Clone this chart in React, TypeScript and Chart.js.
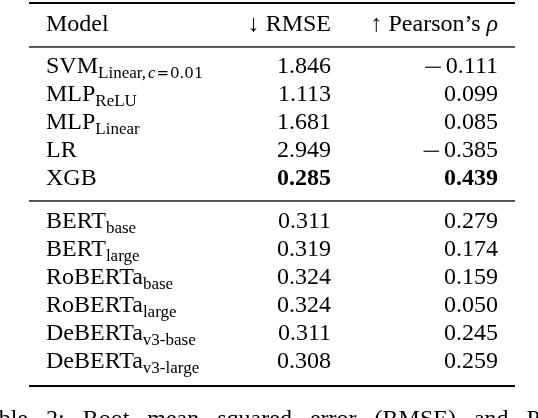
import { useEffect, useRef } from 'react';
import { Chart, ScatterController, PointElement, LinearScale } from 'chart.js';
import type { Plugin } from 'chart.js';

Chart.register(ScatterController, PointElement, LinearScale);

// ---- table content ----
const MODEL_NAMES = ['SVM', 'MLP', 'MLP', 'LR', 'XGB', 'BERT', 'BERT', 'RoBERTa', 'RoBERTa', 'DeBERTa', 'DeBERTa'];
const MODEL_SUBS  = ['Linear,c=0.01', 'ReLU', 'Linear', '', '', 'base', 'large', 'base', 'large', 'v3-base', 'v3-large'];
const RMSE        = [1.846, 1.113, 1.681, 2.949, 0.285, 0.311, 0.319, 0.324, 0.324, 0.311, 0.308];
const PEARSON     = [-0.111, 0.099, 0.085, -0.385, 0.439, 0.279, 0.174, 0.159, 0.050, 0.245, 0.259];
const GROUP_SIZES = [5, 6];
const CAPTION     = 'Table 2: Root mean squared error (RMSE) and Pearson’s correlation';

// ---- layout ----
const W = 538, H = 418;
const INK    = '#000';
const SERIF  = '"Liberation Serif", "Times New Roman", serif';
const MATH   = '"DejaVu Serif", serif';
const SIZE   = 24;
const SUB    = 17;
const SUB_DY = 5;
const PITCH  = 28;           // px per row
const FIRST_GAP = 1.5;       // rows between header and first body row
const GROUP_GAP = 1.54;      // rows between groups
const RULE_BELOW = 0.57;     // thin rule offset below a row (rows)
const COL_X = [17, 302, 469];  // model left edge, RMSE right edge, Pearson right edge
const ALIGN = ['left', 'right', 'right'] as const;

const f = (size: number, style = '', family = SERIF) => `${style} ${size}px ${family}`.trim();

// sx: horizontal stretch of a glyph (used for the wide math minus)
type Seg = { text: string; font: string; dy?: number; gap?: number; sx?: number };

// row slots (in rows; header is 0)
const SLOTS: number[] = [];
const MID_RULES: number[] = [];
{
  let s = FIRST_GAP;
  GROUP_SIZES.forEach((n, g) => {
    if (g > 0) { MID_RULES.push(s - 1 + RULE_BELOW); s += GROUP_GAP - 1; }
    for (let i = 0; i < n; i++) { SLOTS.push(s); s += 1; }
  });
}
const LAST = SLOTS[SLOTS.length - 1];
const RULES = [
  { at: -1.0,           w: 2.0 },
  { at: RULE_BELOW,     w: 1.3 },
  ...MID_RULES.map(at => ({ at, w: 1.3 })),
  { at: LAST + 0.64,    w: 2.0 },
];

const bestRmse    = Math.min(...RMSE);
const bestPearson = Math.max(...PEARSON);

function subSegs(sub: string): Seg[] {
  if (!sub) return [];
  const m = sub.match(/^(.*,)(\w)=(.*)$/);
  if (m) {
    return [
      { text: m[1], font: f(SUB), dy: SUB_DY },
      { text: m[2], font: f(SUB, 'italic'), dy: SUB_DY, gap: 2 },
      { text: '=', font: f(SUB - 2, '', MATH), dy: SUB_DY, gap: 1 },
      { text: m[3], font: f(SUB - 2, '', MATH), dy: SUB_DY, gap: 1 },
    ];
  }
  return [{ text: sub, font: f(SUB), dy: SUB_DY }];
}

function numSegs(v: number, bold: boolean): Seg[] {
  const body = Math.abs(v).toFixed(3);
  const font = f(SIZE, bold ? 'bold' : '');
  if (v < 0) return [{ text: '−', font: f(SIZE), sx: 1.4, dy: 1.5 }, { text: body, font, gap: 3 }];
  return [{ text: body, font }];
}

const CELLS: Seg[][][] = [
  [
    [{ text: 'Model', font: f(SIZE) }],
    ...MODEL_NAMES.map((n, i) => [{ text: n, font: f(SIZE) }, ...subSegs(MODEL_SUBS[i])]),
  ],
  [
    [{ text: '↓ RMSE', font: f(SIZE) }],
    ...RMSE.map(v => numSegs(v, v === bestRmse)),
  ],
  [
    [{ text: '↑ Pearson’s ', font: f(SIZE) }, { text: 'ρ', font: f(SIZE, 'italic') }],
    ...PEARSON.map(v => numSegs(v, v === bestPearson)),
  ],
];

function drawRich(ctx: CanvasRenderingContext2D, segs: Seg[], x: number, y: number, align: 'left' | 'right') {
  const widths = segs.map(s => {
    ctx.font = s.font;
    return ctx.measureText(s.text).width * (s.sx ?? 1) + (s.gap ?? 0);
  });
  let cx = align === 'right' ? x - widths.reduce((a, b) => a + b, 0) : x;
  segs.forEach((s, i) => {
    ctx.font = s.font;
    const tx = cx + (s.gap ?? 0), ty = y + (s.dy ?? 0);
    if (s.sx) {
      ctx.save();
      ctx.translate(tx, ty);
      ctx.scale(s.sx, 1);
      ctx.fillText(s.text, 0, 0);
      ctx.restore();
    } else {
      ctx.fillText(s.text, tx, ty);
    }
    cx += widths[i];
  });
}

const tablePlugin: Plugin<'scatter'> = {
  id: 'booktabs',
  afterDatasetsDraw(chart) {
    const { ctx, chartArea, scales } = chart;
    ctx.save();
    ctx.fillStyle = INK;
    ctx.textAlign = 'left';
    ctx.textBaseline = 'alphabetic';

    RULES.forEach(r => {
      const py = scales.y.getPixelForValue(r.at);
      ctx.fillRect(chartArea.left, py - r.w / 2, chartArea.right - chartArea.left, r.w);
    });

    chart.data.datasets.forEach((_, d) => {
      chart.getDatasetMeta(d).data.forEach((pt, j) => drawRich(ctx, CELLS[d][j], pt.x, pt.y, ALIGN[d]));
    });

    // caption, mostly below the visible area
    ctx.font = f(SIZE);
    (ctx as any).wordSpacing = '12px';
    ctx.fillText(CAPTION, scales.x.getPixelForValue(-54), scales.y.getPixelForValue(LAST + 2.08));
    ctx.restore();
  },
};

export default function App() {
  const canvasRef = useRef<HTMLCanvasElement>(null);

  useEffect(() => {
    if (!canvasRef.current) return;
    const yMin = -31 / PITCH;
    const chart = new Chart(canvasRef.current, {
      type: 'scatter',
      data: {
        datasets: COL_X.map((cx, d) => ({
          label: String(d),
          data: [0, ...SLOTS].map(s => ({ x: cx, y: s })),
          pointRadius: 0,
          pointHoverRadius: 0,
        })),
      },
      options: {
        responsive: true,
        maintainAspectRatio: false,
        animation: false,
        events: [],
        layout: { padding: { left: 29, right: W - 515, top: 0, bottom: 0 } },
        plugins: { legend: { display: false }, tooltip: { enabled: false } },
        scales: {
          x: { type: 'linear', display: false, min: 0, max: 515 - 29 },
          y: { type: 'linear', display: false, reverse: true, min: yMin, max: yMin + H / PITCH },
        },
      },
      plugins: [tablePlugin],
    });
    return () => chart.destroy();
  }, []);

  return (
    <div style={{ position: 'fixed', left: 0, top: 0, width: W, height: H, background: '#fff' }}>
      <canvas ref={canvasRef} />
    </div>
  );
}
